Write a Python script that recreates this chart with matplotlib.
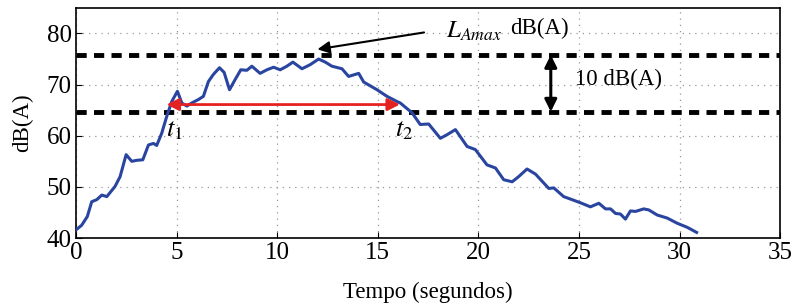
import numpy as np
import matplotlib.pyplot as plt

plt.rcParams['font.family'] = ['Liberation Serif', 'DejaVu Serif']

# Curve (tempo in s, nivel in dB(A))
tempo = [0.0, 0.28, 0.56, 0.78, 1.03, 1.28, 1.53, 1.94, 2.19, 2.49, 2.77, 3.02,
         3.32, 3.6, 3.85, 4.01, 4.26, 4.51, 4.76, 5.04, 5.26, 5.51, 5.75, 6.09,
         6.33, 6.58, 6.83, 7.13, 7.36, 7.63, 7.91, 8.19, 8.49, 8.74, 9.15, 9.49,
         9.82, 10.15, 10.48, 10.78, 11.23, 11.64, 12.06, 12.39, 12.72, 13.22,
         13.55, 14.05, 14.3, 14.96, 15.46, 15.95, 16.12, 16.7, 17.11, 17.53,
         18.11, 18.44, 18.86, 19.44, 19.85, 20.43, 20.85, 21.26, 21.68, 22.0,
         22.42, 22.84, 23.5, 23.75, 24.24, 24.66, 25.07, 25.57, 25.99, 26.32,
         26.57, 26.82, 27.06, 27.31, 27.56, 27.81, 28.22, 28.47, 28.89, 29.39,
         29.88, 30.38, 30.85]
nivel = [41.6, 42.5, 44.2, 47.1, 47.5, 48.4, 48.1, 50.1, 52.0, 56.3, 55.0, 55.2,
         55.3, 58.2, 58.5, 58.1, 60.5, 63.8, 66.7, 68.7, 66.4, 65.8, 66.4, 67.1,
         67.7, 70.6, 72.0, 73.3, 72.4, 69.0, 71.0, 72.9, 72.8, 73.6, 72.2, 72.9,
         73.4, 72.9, 73.6, 74.4, 73.1, 73.9, 75.0, 74.4, 73.6, 73.1, 71.6, 72.2,
         70.5, 69.0, 67.7, 66.7, 66.4, 64.5, 62.2, 62.3, 59.5, 60.2, 61.2, 57.9,
         57.3, 54.3, 53.7, 51.4, 51.0, 52.0, 53.5, 52.5, 49.7, 49.8, 48.1, 47.5,
         46.9, 46.1, 46.8, 45.7, 45.7, 44.8, 44.7, 43.7, 45.3, 45.2, 45.7, 45.5,
         44.5, 43.9, 42.9, 42.1, 41.1]

l_amax = 75.8
l_limite = 64.7
t1, t2 = 4.5, 16.1
nivel_seta = 66.1

fig = plt.figure(figsize=(7.92, 3.04), dpi=100)
ax = fig.add_axes([0.096, 0.217, 0.889, 0.757])

ax.plot(tempo, nivel, color='#2a45a0', lw=2.2, zorder=3)

# dashed reference lines
ax.axhline(l_amax, color='black', lw=3.5, dashes=(2.1, 1.5), zorder=2)
ax.axhline(l_limite, color='black', lw=3.5, dashes=(2.1, 1.5), zorder=2)

# red double arrow t1 -> t2
ax.annotate('', xy=(t1, nivel_seta), xytext=(t2, nivel_seta),
            arrowprops=dict(arrowstyle='<|-|>', color='#e52222', lw=2,
                            mutation_scale=18, shrinkA=0, shrinkB=0), zorder=4)

# 10 dB(A) double arrow
ax.annotate('', xy=(23.6, l_amax), xytext=(23.6, l_limite),
            arrowprops=dict(arrowstyle='<|-|>', color='black', lw=2.2,
                            mutation_scale=18, shrinkA=0, shrinkB=0), zorder=4)
ax.text(24.8, 71.0, '10 dB(A)', fontsize=16.5, va='center', ha='left')

# LAmax arrow
ax.annotate('', xy=(12.0, 76.9), xytext=(17.3, 80.2),
            arrowprops=dict(arrowstyle='-|>', color='black', lw=1.5,
                            mutation_scale=18, shrinkA=0, shrinkB=0))
ax.text(18.4, 80.4, r'$L_{Amax}$', fontsize=18, va='center', ha='left',
        math_fontfamily='stix')
ax.text(21.6, 81.0, 'dB(A)', fontsize=16.5, va='center', ha='left')

ax.text(4.9, 61.0, r'$t_1$', fontsize=19, ha='center', va='center',
        math_fontfamily='stix')
ax.text(16.3, 61.0, r'$t_2$', fontsize=19, ha='center', va='center',
        math_fontfamily='stix')

ax.set_xlim(0, 35)
ax.set_ylim(40, 85)
ax.set_xticks(np.arange(0, 36, 5))
ax.set_yticks(np.arange(40, 81, 10))
ax.grid(True, color='#999999', linestyle=(0, (1, 4)), lw=0.9)
ax.tick_params(direction='in', labelsize=18, length=4, pad=3)
for s in ax.spines.values():
    s.set_linewidth(1.2)
ax.set_xlabel('Tempo (segundos)', fontsize=16.5, labelpad=13)
ax.set_ylabel('dB(A)', fontsize=16.5, labelpad=10)

plt.savefig('out.png', dpi=100)
